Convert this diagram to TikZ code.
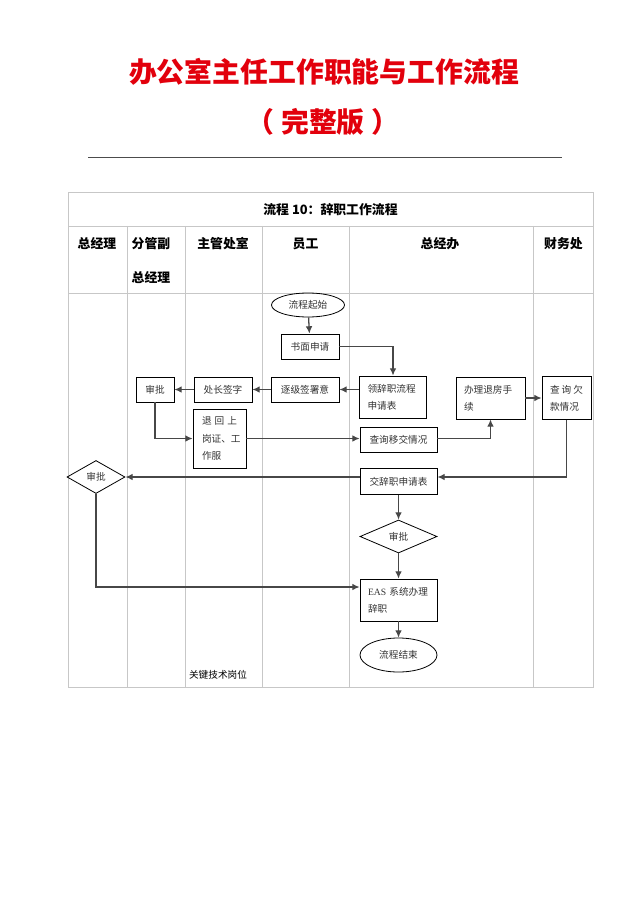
\documentclass[tikz,border=0pt]{standalone}
\usepackage{fontspec}
\setmainfont{Liberation Serif}
\newfontfamily\cjk{Noto Sans CJK SC}
\usetikzlibrary{arrows.meta,shapes.geometric}
\newdimen\pxu \pxu=0.0328125cm
\definecolor{titlered}{RGB}{226,0,12}
\begin{document}
\begin{tikzpicture}[x=0.0328125cm,y=-0.0328125cm,
  gridline/.style={draw=black!22, line width=0.7pt},
  sz/.style 2 args={minimum width=#1*\pxu, minimum height=#2*\pxu},
  box/.style={draw=black, line width=0.75pt, inner sep=0pt, text=black!80,
    font=\cjk\fontsize{9}{16}\selectfont},
  mbox/.style={box, align=left, inner xsep=8*\pxu, text width=#1*\pxu},
  dia/.style={diamond, box, shape aspect=2},
  oval/.style={ellipse, box},
  conn/.style={draw=black!72, line width=1.2pt, -{Latex[length=2.4mm,width=2.2mm]}},
  hdr/.style={font=\cjk\bfseries\fontsize{12}{14}\selectfont, text=black},
]
\useasboundingbox (0,0) rectangle (640,905);

% titles
\node[font=\cjk\bfseries\fontsize{26}{30}\selectfont, text=titlered] (t1) at (324,72) {办公室主任工作职能与工作流程};
\node[font=\cjk\bfseries\fontsize{26}{30}\selectfont, text=titlered] (t2) at (323,122) {（\hspace{0.25em}完整版\hspace{0.25em}）};
\draw[black!70, line width=0.8pt] (88,157) -- (562,157);

% table grid
\draw[gridline] (68,192) rectangle (593,687);
\draw[gridline] (68,226) -- (593,226);
\draw[gridline] (68,293) -- (593,293);
\foreach \cx in {127,185,262,349,533}
  \draw[gridline] (\cx,226) -- (\cx,687);

% headers
\node[hdr] (h0) at (330.5,210) {流程 10：辞职工作流程};
\node[hdr] (h1) at (97,244) {总经理};
\node[hdr] (h2a) at (151,244) {分管副};
\node[hdr] (h2b) at (151,278) {总经理};
\node[hdr] (h3) at (223,244) {主管处室};
\node[hdr] (h4) at (305.5,244) {员工};
\node[hdr] (h5) at (440,244) {总经办};
\node[hdr] (h6) at (563.5,244) {财务处};

% nodes
\node[oval, sz={73}{24}] (start) at (308,305) {流程起始};
\node[box, sz={58}{25}] (sm) at (310,346.5) {书面申请};
\node[mbox=51, sz={67}{42}] (lz) at (393,397) {领辞职流程\\申请表};
\node[box, sz={68}{25}] (zj) at (305,389.5) {逐级签署意};
\node[box, sz={58}{25}] (cz) at (223,389.5) {处长签字};
\node[box, sz={38}{25}] (sp1) at (155,389.5) {审批};
\node[mbox=35, sz={53}{59}] (th) at (219.5,438.5) {退\hfill 回\hfill 上\\岗证、工\\作服};
\node[box, sz={77}{25}] (cy) at (398.5,440) {查询移交情况};
\node[mbox=53, sz={69}{42}] (bl) at (490.5,398) {办理退房手\\续};
\node[mbox=33, sz={49}{43}] (qk) at (566.5,398) {查\hfill 询\hfill 欠\\款情况};
\node[box, sz={77}{26}] (jc) at (398.5,481.5) {交辞职申请表};
\node[dia, sz={58}{33}] (dm1) at (96,477) {审批};
\node[dia, sz={77}{33}] (dm2) at (398.5,536.5) {审批};
\node[mbox=61, sz={77}{42}] (eas) at (398.5,600) {{\fontspec{Liberation Serif}EAS} 系统办理\\辞职};
\node[oval, sz={77}{34}] (fin) at (398.5,655) {流程结束};
\node[font=\cjk\fontsize{9}{11}\selectfont, text=black] (key) at (218,675) {关键技术岗位};

% connectors
\draw[conn] (start) -- (sm);
\draw[conn] (sm.east) -| (lz.north);
\draw[conn] (lz.west |- zj.east) -- (zj.east);
\draw[conn] (zj.west) -- (cz.east);
\draw[conn] (cz.west) -- (sp1.east);
\draw[conn] (sp1.south) |- (th.west);
\draw[conn] (th.east) -- (cy.west |- th.east);
\draw[conn] (cy.east |- th.east) -| (bl.south);
\draw[conn] (bl.east) -- (qk.west);
\draw[conn] (qk.south) |- (jc.east |- dm1.east);
\draw[conn] (jc.west |- dm1.east) -- (dm1.east);
\draw[conn] (jc.south) -- (dm2.north);
\draw[conn] (dm1.south) |- ([yshift=13*\pxu]eas.west);
\draw[conn] (dm2.south) -- (eas.north);
\draw[conn] (eas.south) -- (fin.north);
\end{tikzpicture}
\end{document}
